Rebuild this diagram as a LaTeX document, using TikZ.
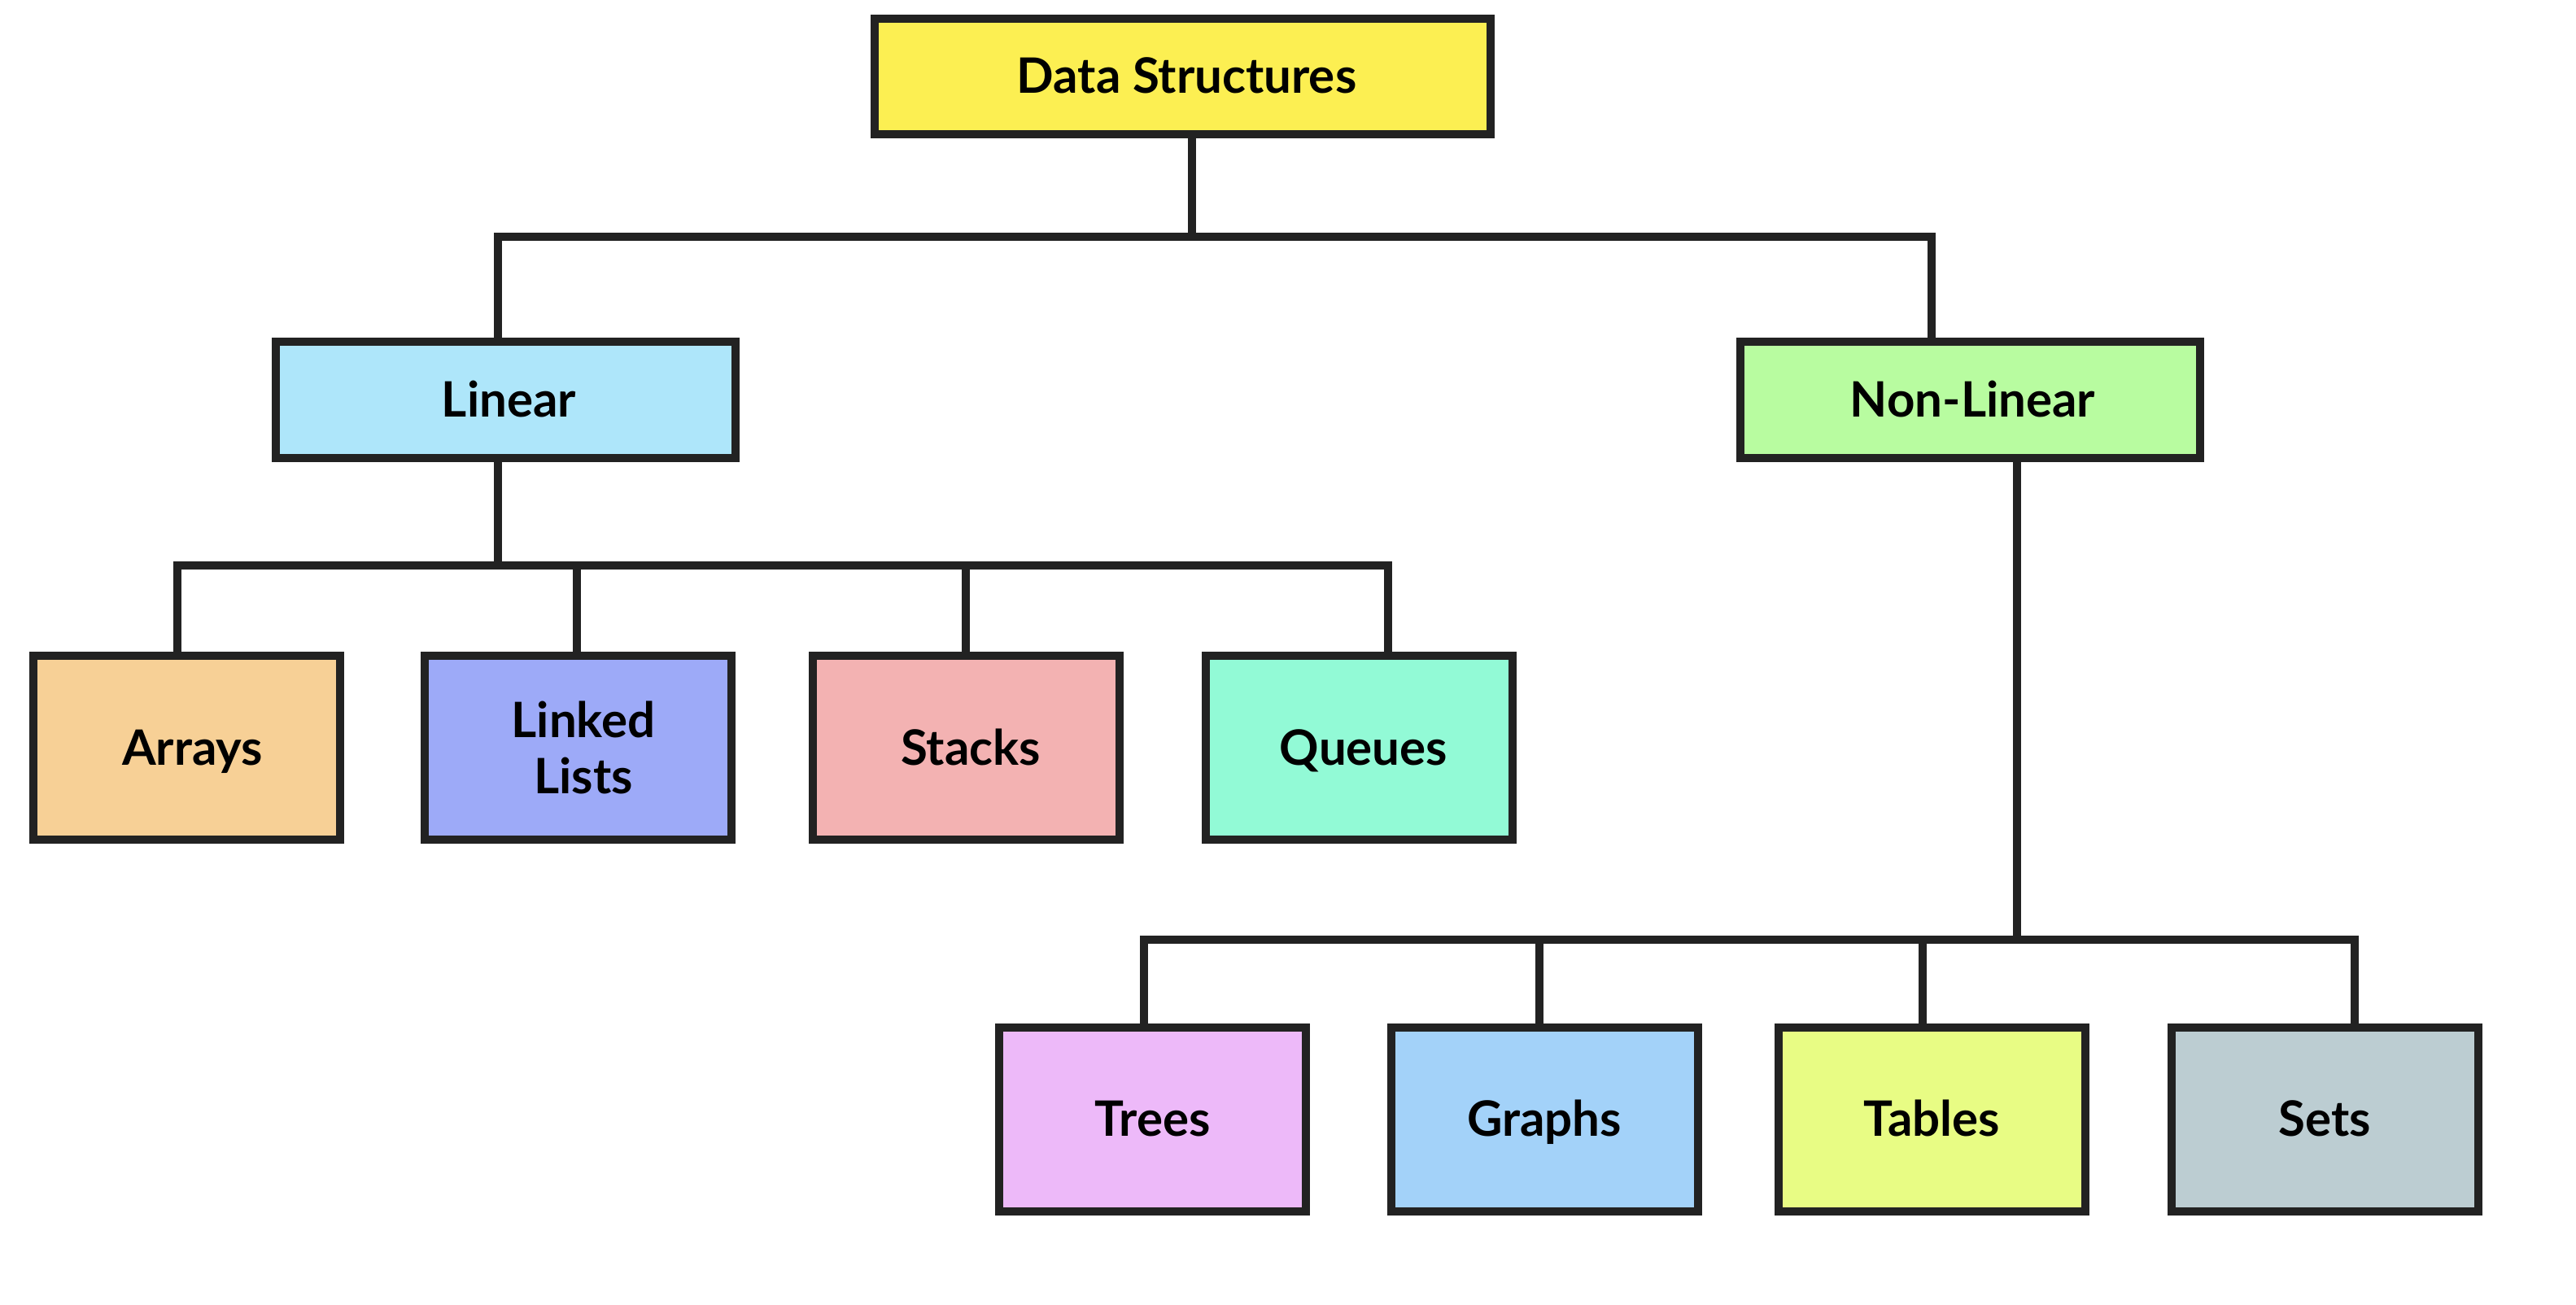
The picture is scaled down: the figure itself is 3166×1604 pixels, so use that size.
\documentclass[tikz,border=0pt]{standalone}
\usepackage{fontspec}
\setmainfont{Lato}
\definecolor{edge}{HTML}{222222}
\definecolor{cRoot}{HTML}{FCEF52}
\definecolor{cLin}{HTML}{AEE6FA}
\definecolor{cNon}{HTML}{B8FCA0}
\definecolor{cArr}{HTML}{F7D096}
\definecolor{cLL}{HTML}{9DAAF8}
\definecolor{cStk}{HTML}{F3B2B2}
\definecolor{cQue}{HTML}{92FAD6}
\definecolor{cTre}{HTML}{EDB9F9}
\definecolor{cGra}{HTML}{A3D2F9}
\definecolor{cTab}{HTML}{E8FC84}
\definecolor{cSet}{HTML}{BCCDD2}
\begin{document}
\begin{tikzpicture}[x=0.5pt,y=-0.5pt,
  box/.style={draw=edge, line width=5pt, inner sep=0pt, align=center,
    font=\bfseries\fontsize{30}{34.5}\selectfont},
  oneline/.style={text height=24.5pt, text depth=3.5pt},
  topbox/.style={box, oneline, minimum width=378.5pt, minimum height=71pt},
  midbox/.style={box, oneline, minimum width=282.5pt, minimum height=71.5pt},
  leafbox/.style={box, minimum width=188.5pt, minimum height=113pt},
  wire/.style={draw=edge, line width=5pt, line join=miter, line cap=butt}]
\useasboundingbox[fill=white] (0,0) rectangle (3166,1604);

% junction points of the three buses
\coordinate (jRoot) at (1465,291);
\coordinate (jLin)  at (612,291);
\coordinate (jNon)  at (2374,291);
\coordinate (bLin)  at (612,695);
\coordinate (jArr)  at (218,695);
\coordinate (jLL)   at (709,695);
\coordinate (jStk)  at (1187,695);
\coordinate (jQue)  at (1706,695);
\coordinate (bNon)  at (2479,1155);
\coordinate (jTre)  at (1406,1155);
\coordinate (jGra)  at (1892,1155);
\coordinate (jTab)  at (2363,1155);
\coordinate (jSet)  at (2894,1155);

% boxes
\node[topbox, fill=cRoot] (root) at (1453.5,94) {\hspace*{5pt}Data Structures};
\node[midbox, fill=cLin] (linear) at (621.5,491.5) {\hspace*{4pt}Linear};
\node[midbox, fill=cNon] (nonlin) at (2421.5,491.5) {\hspace*{3pt}Non-Linear};
\node[leafbox, oneline, fill=cArr] (arrays) at (229.5,919) {\hspace*{7pt}Arrays};
\node[leafbox, fill=cLL]  (linked) at (710,919) {\hspace*{7pt}Linked\\\hspace*{7pt}Lists};
\node[leafbox, oneline, fill=cStk] (stacks) at (1187,919) {\hspace*{6pt}Stacks};
\node[leafbox, oneline, fill=cQue] (queues) at (1670,919) {\hspace*{6pt}Queues};
\node[leafbox, oneline, fill=cTre] (trees)  at (1416.5,1375.5) {Trees};
\node[leafbox, oneline, fill=cGra] (graphs) at (1898,1375.5) {Graphs};
\node[leafbox, oneline, fill=cTab] (tables) at (2374.5,1375.5) {Tables};
\node[leafbox, oneline, fill=cSet] (sets)   at (2857,1375.5) {Sets};

% connectors, from each parent down to its bus and from the bus to each child
\draw[wire] (root.south -| jRoot) -- (jRoot);
\draw[wire] (linear.north -| jLin) -- (jLin) -- (jNon) -- (nonlin.north -| jNon);
\draw[wire] (linear.south -| bLin) -- (bLin);
\draw[wire] (arrays.north -| jArr) -- (jArr) -- (jQue) -- (queues.north -| jQue);
\draw[wire] (linked.north -| jLL) -- (jLL);
\draw[wire] (stacks.north -| jStk) -- (jStk);
\draw[wire] (nonlin.south -| bNon) -- (bNon);
\draw[wire] (trees.north -| jTre) -- (jTre) -- (jSet) -- (sets.north -| jSet);
\draw[wire] (graphs.north -| jGra) -- (jGra);
\draw[wire] (tables.north -| jTab) -- (jTab);
\end{tikzpicture}
\end{document}
